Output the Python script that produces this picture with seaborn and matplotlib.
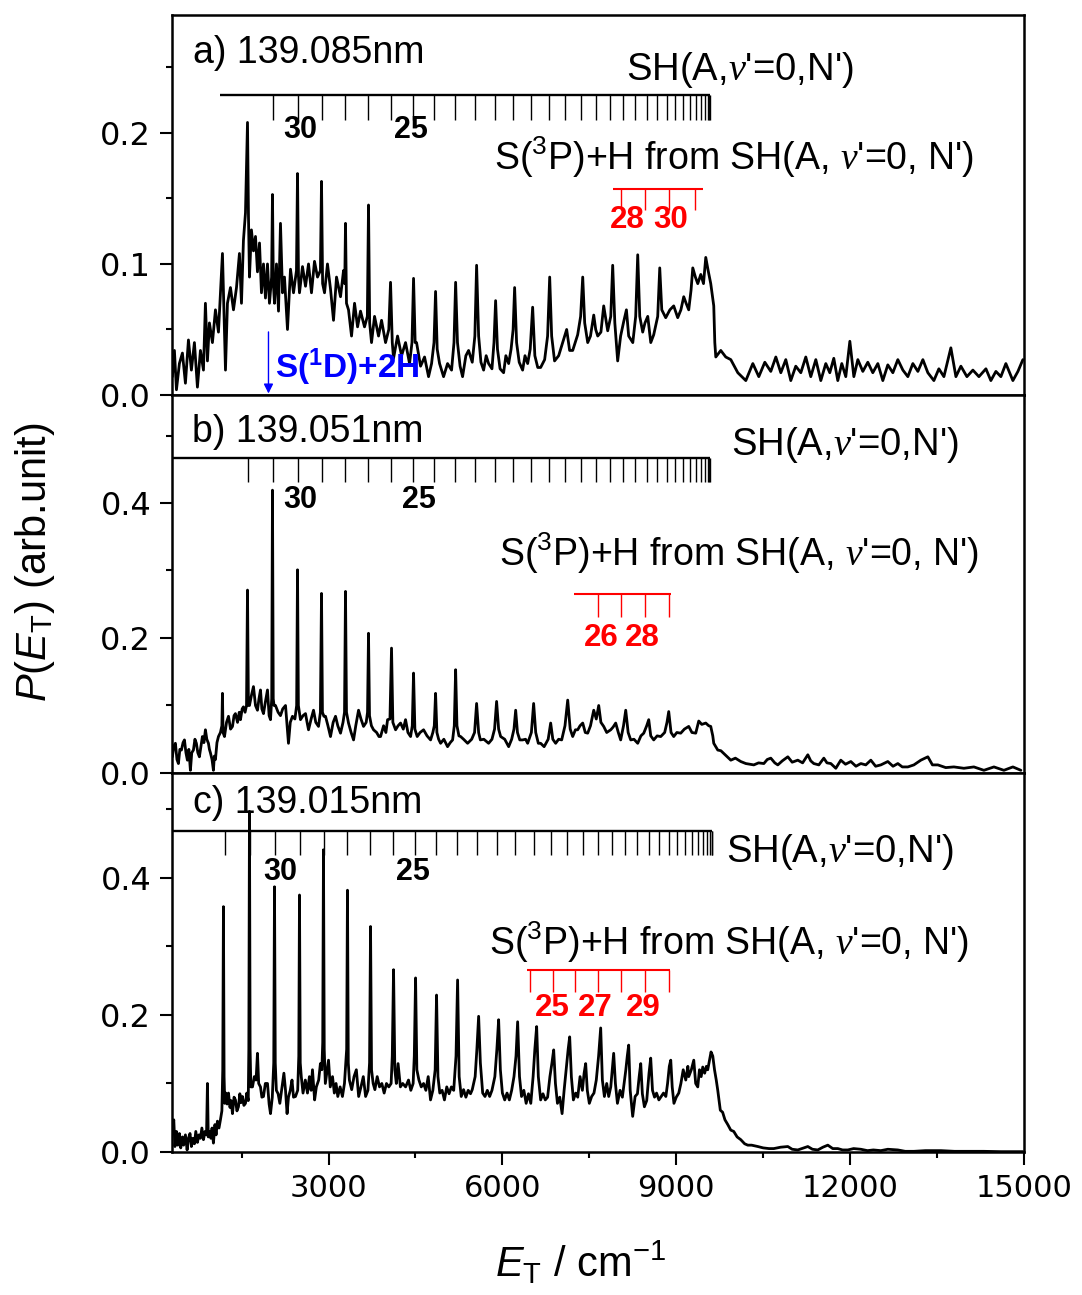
import numpy as np
import pandas as pd
import matplotlib
matplotlib.use("Agg")
import matplotlib.pyplot as plt
import matplotlib.transforms as mtransforms
from matplotlib.ticker import MultipleLocator, FormatStrFormatter
import seaborn as sns

# ---------------- data ----------------
energy_a = [306, 341, 376, 427, 479, 531, 583, 634, 686, 738, 790, 842, 876, 911, 945, 997, 1049, 1101,
            1170, 1222, 1256, 1308, 1360, 1412, 1463, 1498, 1532, 1567, 1602, 1619, 1636, 1670, 1705, 1740,
            1774, 1809, 1843, 1878, 1912, 1947, 1981, 2018, 2033, 2048, 2068, 2102, 2137, 2171, 2206, 2240,
            2292, 2344, 2396, 2447, 2465, 2482, 2499, 2551, 2603, 2655, 2706, 2758, 2810, 2860, 2879, 2898,
            2931, 2982, 3034, 3086, 3138, 3207, 3259, 3280, 3293, 3310, 3345, 3397, 3449, 3501, 3552, 3621,
            3670, 3690, 3710, 3742, 3794, 3863, 3915, 3984, 4040, 4070, 4100, 4122, 4191, 4260, 4329, 4398,
            4440, 4467, 4495, 4519, 4588, 4657, 4726, 4778, 4820, 4847, 4875, 4916, 4985, 5054, 5123, 5165,
            5193, 5225, 5270, 5313, 5370, 5417, 5480, 5525, 5555, 5590, 5630, 5676, 5720, 5762, 5820, 5855,
            5883, 5915, 5960, 6021, 6060, 6108, 6150, 6185, 6211, 6245, 6290, 6349, 6390, 6436, 6480, 6522,
            6560, 6610, 6660, 6729, 6780, 6816, 6850, 6900, 6971, 7040, 7109, 7160, 7213, 7299, 7350, 7386,
            7420, 7472, 7520, 7576, 7610, 7645, 7700, 7748, 7817, 7870, 7903, 7940, 7989, 8040, 8093, 8140,
            8179, 8250, 8300, 8335, 8370, 8421, 8460, 8508, 8560, 8611, 8680, 8715, 8750, 8818, 8890, 8956,
            9025, 9080, 9129, 9170, 9215, 9255, 9285, 9330, 9371, 9423, 9470, 9509, 9550, 9595, 9647, 9665,
            9682, 9768, 9854, 9941, 10062, 10200, 10321, 10424, 10528, 10631, 10718, 10804, 10890, 10976,
            11062, 11149, 11235, 11321, 11408, 11494, 11580, 11649, 11718, 11787, 11856, 11925, 11995, 12064,
            12133, 12219, 12305, 12391, 12478, 12564, 12650, 12737, 12823, 12910, 12996, 13082, 13169, 13255,
            13341, 13445, 13531, 13618, 13738, 13825, 13911, 14015, 14118, 14222, 14343, 14428, 14515, 14601,
            14687, 14808, 14895, 14981]
signal_a = [0.014, 0.034, 0.004, 0.024, 0.032, 0.009, 0.042, 0.019, 0.040, 0.006, 0.034, 0.019, 0.070, 0.026,
            0.055, 0.040, 0.065, 0.048, 0.108, 0.019, 0.070, 0.082, 0.065, 0.082, 0.108, 0.070, 0.118, 0.139,
            0.208, 0.136, 0.090, 0.126, 0.110, 0.121, 0.094, 0.116, 0.078, 0.100, 0.074, 0.100, 0.070, 0.090,
            0.153, 0.085, 0.070, 0.100, 0.064, 0.131, 0.078, 0.090, 0.050, 0.096, 0.078, 0.095, 0.169, 0.090,
            0.078, 0.098, 0.083, 0.100, 0.078, 0.102, 0.090, 0.095, 0.163, 0.085, 0.078, 0.100, 0.081, 0.057,
            0.090, 0.075, 0.095, 0.085, 0.131, 0.070, 0.065, 0.045, 0.070, 0.052, 0.064, 0.052, 0.060, 0.145,
            0.055, 0.040, 0.060, 0.045, 0.057, 0.040, 0.050, 0.086, 0.040, 0.028, 0.045, 0.030, 0.040, 0.024,
            0.040, 0.089, 0.040, 0.040, 0.022, 0.029, 0.014, 0.024, 0.040, 0.079, 0.035, 0.024, 0.014, 0.024,
            0.019, 0.040, 0.086, 0.040, 0.022, 0.014, 0.030, 0.034, 0.025, 0.045, 0.099, 0.045, 0.025, 0.019,
            0.030, 0.024, 0.020, 0.040, 0.072, 0.035, 0.020, 0.017, 0.030, 0.024, 0.035, 0.050, 0.082, 0.040,
            0.025, 0.019, 0.030, 0.024, 0.035, 0.067, 0.030, 0.021, 0.021, 0.027, 0.045, 0.090, 0.045, 0.026,
            0.030, 0.040, 0.050, 0.034, 0.034, 0.046, 0.060, 0.090, 0.055, 0.040, 0.045, 0.061, 0.050, 0.045,
            0.048, 0.068, 0.049, 0.060, 0.099, 0.055, 0.026, 0.045, 0.056, 0.065, 0.045, 0.040, 0.060, 0.107,
            0.060, 0.048, 0.055, 0.060, 0.040, 0.046, 0.060, 0.097, 0.065, 0.059, 0.065, 0.068, 0.059, 0.065,
            0.075, 0.070, 0.065, 0.080, 0.097, 0.090, 0.085, 0.092, 0.085, 0.105, 0.095, 0.085, 0.068, 0.040,
            0.029, 0.034, 0.029, 0.027, 0.017, 0.011, 0.024, 0.014, 0.025, 0.018, 0.029, 0.017, 0.027, 0.011,
            0.022, 0.017, 0.029, 0.014, 0.027, 0.011, 0.024, 0.017, 0.028, 0.011, 0.024, 0.014, 0.041, 0.014,
            0.027, 0.018, 0.025, 0.017, 0.024, 0.011, 0.023, 0.017, 0.027, 0.019, 0.014, 0.024, 0.018, 0.027,
            0.017, 0.011, 0.020, 0.014, 0.036, 0.014, 0.022, 0.014, 0.019, 0.014, 0.020, 0.011, 0.018, 0.014,
            0.024, 0.011, 0.018, 0.027]

energy_b = [306, 330, 358, 385, 410, 435, 462, 490, 514, 540, 565, 590, 617, 640, 669, 695, 720, 745, 772,
            800, 824, 850, 876, 900, 928, 945, 962, 990, 1014, 1030, 1049, 1075, 1101, 1135, 1160, 1170, 1180,
            1205, 1240, 1274, 1310, 1343, 1370, 1394, 1430, 1460, 1481, 1510, 1532, 1560, 1585, 1602, 1618,
            1636, 1670, 1705, 1740, 1774, 1800, 1826, 1850, 1878, 1910, 1947, 1975, 1999, 2020, 2033, 2046,
            2060, 2085, 2130, 2171, 2210, 2258, 2285, 2309, 2340, 2378, 2420, 2450, 2465, 2480, 2516, 2560,
            2603, 2630, 2655, 2700, 2741, 2780, 2827, 2860, 2879, 2895, 2920, 2948, 2990, 3034, 3080, 3121,
            3160, 3207, 3250, 3276, 3293, 3310, 3345, 3390, 3432, 3470, 3518, 3560, 3604, 3650, 3673, 3690,
            3707, 3740, 3777, 3830, 3870, 3898, 3950, 3990, 4019, 4060, 4087, 4110, 4157, 4200, 4243, 4290,
            4329, 4370, 4416, 4445, 4467, 4490, 4530, 4580, 4640, 4700, 4761, 4800, 4825, 4847, 4870, 4900,
            4934, 4990, 5054, 5100, 5141, 5170, 5193, 5216, 5250, 5279, 5330, 5400, 5470, 5520, 5555, 5590,
            5620, 5680, 5762, 5820, 5865, 5900, 5935, 5970, 6040, 6108, 6160, 6200, 6229, 6260, 6300, 6349,
            6400, 6436, 6500, 6539, 6575, 6620, 6660, 6720, 6790, 6833, 6870, 6919, 6970, 7023, 7080, 7127,
            7170, 7213, 7260, 7299, 7340, 7386, 7430, 7472, 7520, 7576, 7620, 7662, 7700, 7748, 7800, 7869,
            7910, 7955, 8000, 8041, 8090, 8128, 8170, 8214, 8270, 8335, 8390, 8439, 8490, 8525, 8560, 8611,
            8670, 8732, 8800, 8840, 8870, 8910, 8956, 9010, 9077, 9140, 9215, 9270, 9336, 9388, 9440, 9509,
            9560, 9595, 9630, 9647, 9716, 9770, 9820, 9880, 9941, 10020, 10113, 10200, 10338, 10420, 10511,
            10570, 10631, 10700, 10752, 10830, 10925, 11000, 11097, 11180, 11270, 11320, 11373, 11460, 11546,
            11600, 11667, 11753, 11839, 11920, 12012, 12100, 12185, 12270, 12357, 12440, 12530, 12650, 12740,
            12823, 12900, 12996, 13100, 13220, 13341, 13420, 13514, 13650, 13790, 13963, 14135, 14308, 14481,
            14653, 14808, 14946]
signal_b = [0.024, 0.040, 0.044, 0.020, 0.014, 0.035, 0.034, 0.045, 0.049, 0.030, 0.019, 0.035, 0.004, 0.030,
            0.034, 0.050, 0.044, 0.030, 0.024, 0.040, 0.054, 0.045, 0.064, 0.050, 0.044, 0.035, 0.030, 0.020,
            0.004, 0.025, 0.020, 0.045, 0.054, 0.060, 0.070, 0.118, 0.060, 0.054, 0.075, 0.084, 0.065, 0.069,
            0.085, 0.088, 0.075, 0.090, 0.079, 0.095, 0.098, 0.090, 0.100, 0.271, 0.100, 0.100, 0.115, 0.128,
            0.100, 0.093, 0.110, 0.123, 0.095, 0.088, 0.105, 0.123, 0.085, 0.079, 0.110, 0.419, 0.110, 0.100,
            0.100, 0.090, 0.085, 0.095, 0.100, 0.070, 0.044, 0.075, 0.084, 0.080, 0.100, 0.301, 0.100, 0.079,
            0.085, 0.088, 0.075, 0.064, 0.080, 0.093, 0.075, 0.069, 0.090, 0.266, 0.090, 0.084, 0.084, 0.070,
            0.054, 0.075, 0.084, 0.070, 0.059, 0.075, 0.090, 0.269, 0.090, 0.074, 0.060, 0.049, 0.070, 0.093,
            0.080, 0.069, 0.075, 0.090, 0.207, 0.085, 0.070, 0.064, 0.060, 0.054, 0.054, 0.070, 0.060, 0.079,
            0.080, 0.185, 0.075, 0.064, 0.070, 0.074, 0.065, 0.079, 0.060, 0.054, 0.070, 0.148, 0.065, 0.054,
            0.060, 0.064, 0.055, 0.049, 0.060, 0.070, 0.118, 0.060, 0.050, 0.044, 0.050, 0.039, 0.045, 0.049,
            0.070, 0.153, 0.070, 0.055, 0.054, 0.050, 0.044, 0.050, 0.060, 0.103, 0.060, 0.049, 0.050, 0.044,
            0.050, 0.065, 0.106, 0.065, 0.054, 0.050, 0.039, 0.050, 0.065, 0.093, 0.060, 0.049, 0.049, 0.050,
            0.044, 0.060, 0.103, 0.060, 0.044, 0.044, 0.039, 0.050, 0.074, 0.050, 0.044, 0.050, 0.049, 0.070,
            0.108, 0.065, 0.054, 0.064, 0.064, 0.070, 0.074, 0.060, 0.059, 0.070, 0.093, 0.080, 0.100, 0.075,
            0.069, 0.060, 0.064, 0.068, 0.074, 0.060, 0.049, 0.070, 0.093, 0.060, 0.049, 0.050, 0.044, 0.055,
            0.059, 0.070, 0.079, 0.055, 0.049, 0.055, 0.054, 0.060, 0.075, 0.091, 0.060, 0.054, 0.060, 0.059,
            0.065, 0.069, 0.060, 0.059, 0.077, 0.072, 0.074, 0.070, 0.069, 0.055, 0.044, 0.034, 0.033, 0.029,
            0.024, 0.019, 0.022, 0.017, 0.014, 0.012, 0.015, 0.014, 0.020, 0.022, 0.015, 0.012, 0.018, 0.024,
            0.016, 0.019, 0.015, 0.027, 0.018, 0.014, 0.012, 0.022, 0.015, 0.014, 0.007, 0.019, 0.013, 0.017,
            0.010, 0.014, 0.012, 0.019, 0.010, 0.012, 0.017, 0.010, 0.014, 0.009, 0.009, 0.012, 0.019, 0.024,
            0.012, 0.012, 0.008, 0.009, 0.007, 0.009, 0.004, 0.009, 0.004, 0.009, 0.004]

energy_c = [306, 330, 350, 376, 400, 427, 450, 479, 500, 531, 560, 583, 610, 634, 660, 686, 710, 738, 765,
            790, 815, 842, 870, 895, 911, 925, 945, 970, 990, 1014, 1040, 1060, 1083, 1110, 1135, 1160, 1175,
            1187, 1198, 1210, 1230, 1250, 1274, 1300, 1320, 1343, 1370, 1394, 1420, 1446, 1470, 1490, 1515,
            1540, 1567, 1590, 1615, 1625, 1636, 1647, 1660, 1688, 1720, 1750, 1774, 1795, 1826, 1850, 1878,
            1910, 1947, 1975, 1999, 2030, 2055, 2068, 2081, 2100, 2130, 2160, 2190, 2230, 2258, 2285, 2309,
            2340, 2370, 2396, 2430, 2468, 2487, 2499, 2512, 2530, 2560, 2600, 2637, 2670, 2700, 2723, 2760,
            2790, 2830, 2860, 2885, 2900, 2913, 2926, 2945, 2970, 3000, 3030, 3069, 3100, 3130, 3160, 3200,
            3240, 3275, 3313, 3327, 3341, 3360, 3400, 3440, 3480, 3520, 3560, 3600, 3640, 3680, 3708, 3725,
            3742, 3770, 3800, 3840, 3880, 3920, 3960, 4000, 4040, 4080, 4100, 4122, 4144, 4170, 4200, 4240,
            4280, 4330, 4380, 4420, 4460, 4480, 4502, 4524, 4560, 4600, 4640, 4680, 4720, 4760, 4800, 4840,
            4864, 4888, 4920, 4960, 5000, 5040, 5080, 5120, 5160, 5200, 5227, 5254, 5290, 5330, 5370, 5410,
            5450, 5480, 5530, 5560, 5590, 5620, 5660, 5700, 5740, 5780, 5820, 5870, 5905, 5935, 5965, 6000,
            6040, 6080, 6120, 6160, 6200, 6235, 6263, 6295, 6330, 6370, 6410, 6450, 6490, 6530, 6560, 6591,
            6620, 6660, 6700, 6740, 6780, 6820, 6855, 6885, 6915, 6950, 6990, 7030, 7065, 7100, 7135, 7161,
            7190, 7225, 7265, 7300, 7340, 7380, 7410, 7437, 7465, 7500, 7540, 7580, 7620, 7660, 7696, 7725,
            7760, 7800, 7834, 7870, 7895, 7920, 7950, 7985, 8030, 8070, 8100, 8130, 8155, 8179, 8205, 8248,
            8290, 8330, 8360, 8387, 8415, 8450, 8490, 8530, 8559, 8590, 8625, 8660, 8700, 8740, 8780, 8820,
            8850, 8880, 8905, 8930, 8960, 9000, 9043, 9080, 9120, 9164, 9200, 9215, 9260, 9302, 9335, 9371,
            9400, 9430, 9457, 9490, 9520, 9543, 9575, 9600, 9630, 9660, 9690, 9716, 9760, 9800, 9840, 9889,
            9940, 9992, 10050, 10113, 10180, 10234, 10300, 10407, 10500, 10600, 10683, 10800, 10925, 11000,
            11097, 11200, 11270, 11350, 11442, 11530, 11615, 11700, 11787, 11870, 11960, 12060, 12185, 12300,
            12400, 12530, 12650, 12823, 12950, 13100, 13300, 13566, 13800, 14032, 14300, 14601, 14981]
signal_c = [0.032, 0.047, 0.008, 0.030, 0.010, 0.027, 0.006, 0.022, 0.010, 0.025, 0.003, 0.020, 0.027, 0.008,
            0.020, 0.012, 0.030, 0.014, 0.025, 0.020, 0.035, 0.018, 0.030, 0.025, 0.100, 0.022, 0.030, 0.020,
            0.035, 0.013, 0.040, 0.025, 0.045, 0.035, 0.047, 0.060, 0.120, 0.358, 0.110, 0.071, 0.086, 0.070,
            0.086, 0.065, 0.075, 0.056, 0.080, 0.076, 0.060, 0.066, 0.085, 0.072, 0.081, 0.068, 0.071, 0.086,
            0.075, 0.150, 0.497, 0.150, 0.095, 0.095, 0.110, 0.105, 0.144, 0.100, 0.095, 0.080, 0.081, 0.100,
            0.100, 0.070, 0.056, 0.080, 0.130, 0.387, 0.130, 0.090, 0.085, 0.071, 0.090, 0.115, 0.090, 0.056,
            0.080, 0.090, 0.105, 0.080, 0.081, 0.090, 0.140, 0.375, 0.130, 0.110, 0.086, 0.105, 0.086, 0.110,
            0.090, 0.120, 0.076, 0.095, 0.105, 0.129, 0.120, 0.160, 0.441, 0.150, 0.100, 0.115, 0.134, 0.095,
            0.110, 0.086, 0.100, 0.081, 0.095, 0.081, 0.100, 0.150, 0.382, 0.130, 0.105, 0.091, 0.110, 0.120,
            0.081, 0.095, 0.110, 0.081, 0.090, 0.130, 0.329, 0.120, 0.100, 0.091, 0.110, 0.095, 0.100, 0.086,
            0.100, 0.095, 0.100, 0.140, 0.266, 0.120, 0.100, 0.129, 0.095, 0.100, 0.095, 0.105, 0.090, 0.100,
            0.140, 0.254, 0.120, 0.105, 0.095, 0.100, 0.090, 0.110, 0.076, 0.090, 0.120, 0.229, 0.110, 0.086,
            0.090, 0.076, 0.095, 0.085, 0.095, 0.090, 0.140, 0.251, 0.110, 0.081, 0.091, 0.080, 0.090, 0.085,
            0.091, 0.110, 0.150, 0.198, 0.130, 0.086, 0.081, 0.090, 0.081, 0.090, 0.110, 0.150, 0.193, 0.120,
            0.086, 0.076, 0.086, 0.076, 0.090, 0.110, 0.140, 0.190, 0.110, 0.081, 0.090, 0.071, 0.085, 0.071,
            0.110, 0.150, 0.183, 0.110, 0.076, 0.085, 0.076, 0.080, 0.110, 0.130, 0.149, 0.100, 0.071, 0.080,
            0.056, 0.090, 0.120, 0.150, 0.168, 0.110, 0.076, 0.086, 0.080, 0.110, 0.090, 0.115, 0.129, 0.090,
            0.071, 0.081, 0.086, 0.105, 0.140, 0.181, 0.105, 0.081, 0.100, 0.081, 0.095, 0.120, 0.144, 0.100,
            0.071, 0.090, 0.080, 0.100, 0.120, 0.140, 0.156, 0.090, 0.052, 0.081, 0.085, 0.110, 0.129, 0.085,
            0.066, 0.075, 0.115, 0.137, 0.090, 0.080, 0.086, 0.076, 0.081, 0.086, 0.081, 0.100, 0.125, 0.134,
            0.095, 0.071, 0.080, 0.086, 0.100, 0.120, 0.105, 0.125, 0.110, 0.120, 0.134, 0.100, 0.095, 0.120,
            0.110, 0.124, 0.115, 0.125, 0.120, 0.135, 0.146, 0.140, 0.120, 0.105, 0.090, 0.061, 0.058, 0.047,
            0.040, 0.032, 0.030, 0.022, 0.018, 0.012, 0.010, 0.010, 0.008, 0.006, 0.005, 0.005, 0.007, 0.008,
            0.004, 0.003, 0.006, 0.008, 0.004, 0.003, 0.007, 0.010, 0.005, 0.005, 0.003, 0.003, 0.005, 0.004,
            0.002, 0.003, 0.002, 0.004, 0.003, 0.001, 0.001, 0.002, 0.002, 0.001, 0.001, 0.001, 0.0005, 0.0005]

panel_titles = ["a) 139.085nm", "b) 139.051nm", "c) 139.015nm"]

# SH(A, v'=0, N') rotational comb: N' = 33 ... 0
comb_N = list(range(33, -1, -1))
comb_energy = [1179, 1615, 2044, 2467, 2882, 3289, 3688, 4077, 4456, 4826, 5185, 5532, 5868, 6191, 6502,
               6800, 7084, 7354, 7611, 7853, 8080, 8292, 8489, 8671, 8836, 8986, 9120, 9237, 9337, 9421,
               9489, 9539, 9573, 9590]
# S(3P)+H comb: N' = 24 ... 31
red_N = [24, 25, 26, 27, 28, 29, 30, 31]
red_energy = [6470, 6867, 7247, 7645, 8041, 8456, 8880, 9319]

# ---------------- style ----------------
sns.set_style("ticks")
plt.rcParams['font.family'] = ['Liberation Sans', 'DejaVu Sans']
plt.rcParams['text.color'] = 'black'
plt.rcParams['axes.labelcolor'] = 'black'
plt.rcParams['xtick.color'] = 'black'
plt.rcParams['ytick.color'] = 'black'
plt.rcParams['mathtext.fontset'] = 'custom'
plt.rcParams['mathtext.rm'] = 'Liberation Sans'
plt.rcParams['mathtext.it'] = 'Liberation Sans:italic'
plt.rcParams['mathtext.bf'] = 'Liberation Sans:bold'
plt.rcParams['mathtext.sf'] = 'Liberation Serif:italic'

fig = plt.figure(figsize=(10.82, 12.95), dpi=100)
left, width = 0.1590, 0.7874
bottoms = [0.69498, 0.40309, 0.11042]
heights = [0.29344, 0.29189, 0.29266]
ylims = [0.29, 0.56, 0.553]
ymaj = [0.1, 0.2, 0.2]

energies = [energy_a, energy_b, energy_c]
signals = [signal_a, signal_b, signal_c]

# layout constants per panel
comb_maxN = [31, 32, 33]
comb_shift = [0, 0, 35]
comb_start = [1135, 300, 300]
comb_y = [(0.789, 0.724), (0.833, 0.770), (0.847, 0.784)]
title_pos = [(665, 0.900), (650, 0.902), (665, 0.921)]
sh_pos = [(8127, 0.855), (9940, 0.868), (9854, 0.792)]
sp_pos = [(5849, 0.626), (5935, 0.582), (5762, 0.554)]
num_pos = [((2516, 0.697), (4416, 0.697)), ((2516, 0.722), (4554, 0.722)), ((2171, 0.739), (4450, 0.739))]
red_ticksN = [[28, 29, 30, 31], [27, 28, 29, 30], [24, 25, 26, 27, 28, 29, 30]]
red_line = [(7907, 9457), (7230, 8905), (6418, 8887)]
red_y = [(0.542, 0.487, 0.46), (0.474, 0.413, 0.357), (0.480, 0.422, 0.380)]
red_labels = [[("28", 8162), ("30", 8905)], [("26", 7713), ("28", 8422)],
              [("25", 6867), ("27", 7610), ("29", 8422)]]

axes = []
for i in range(3):
    ax = fig.add_axes([left, bottoms[i], width, heights[i]])
    axes.append(ax)
    df = pd.DataFrame({"energy": energies[i], "signal": signals[i]})
    sns.lineplot(data=df, x="energy", y="signal", ax=ax, color="black", lw=2.0,
                 estimator=None, sort=False, legend=False)
    ax.set_xlim(300, 15000)
    ax.set_ylim(0, ylims[i])
    ax.set_xlabel("")
    ax.set_ylabel("")
    ax.xaxis.set_major_locator(MultipleLocator(3000))
    ax.xaxis.set_minor_locator(MultipleLocator(1500))
    ax.yaxis.set_major_locator(MultipleLocator(ymaj[i]))
    ax.yaxis.set_minor_locator(MultipleLocator(ymaj[i] / 2))
    ax.yaxis.set_major_formatter(FormatStrFormatter('%.1f'))
    for sp in ax.spines.values():
        sp.set_linewidth(1.8)
        sp.set_color('black')
    ax.tick_params(axis='y', which='major', direction='out', length=9, width=1.5,
                   labelsize=23, pad=6, labelfontfamily='DejaVu Sans', colors='black')
    ax.tick_params(axis='y', which='minor', direction='out', length=4.5, width=1.5, colors='black')
    if i < 2:
        ax.tick_params(axis='x', which='both', direction='out', length=7, width=1.5,
                       labelbottom=False, colors='black')
    else:
        ax.tick_params(axis='x', which='major', direction='out', length=9, width=1.5,
                       labelsize=22, pad=7, labelfontfamily='DejaVu Sans', colors='black')
        ax.tick_params(axis='x', which='minor', direction='out', length=4.5, width=1.5, colors='black')

    trans = mtransforms.blended_transform_factory(ax.transData, ax.transAxes)

    # black comb
    ytop, ybot = comb_y[i]
    xs = [e + comb_shift[i] for n, e in zip(comb_N, comb_energy) if n <= comb_maxN[i]]
    ax.plot([comb_start[i], max(xs)], [ytop, ytop], transform=trans, color='black', lw=1.7,
            solid_capstyle='butt')
    ax.vlines(xs, ybot, ytop, transform=trans, colors='black', lw=1.0)

    # texts
    ax.text(title_pos[i][0], title_pos[i][1], panel_titles[i], transform=trans,
            ha='left', va='center', fontsize=27)
    ax.text(sh_pos[i][0], sh_pos[i][1], r"SH(A,$\mathsf{\nu}$'=0,N')", transform=trans,
            ha='left', va='center', fontsize=27.5)
    ax.text(sp_pos[i][0], sp_pos[i][1], r"S($^{3}$P)+H from SH(A, $\mathsf{\nu}$'=0, N')",
            transform=trans, ha='left', va='center', fontsize=27)
    (x30, y30), (x25, y25) = num_pos[i]
    ax.text(x30, y30, "30", transform=trans, ha='center', va='center', fontsize=22, fontweight='bold')
    ax.text(x25, y25, "25", transform=trans, ha='center', va='center', fontsize=22, fontweight='bold')

    # red comb
    rtop, rbot, rlab = red_y[i]
    rx = [e for n, e in zip(red_N, red_energy) if n in red_ticksN[i]]
    ax.plot(list(red_line[i]), [rtop, rtop], transform=trans, color='red', lw=1.5,
            solid_capstyle='butt')
    ax.vlines(rx, rbot, rtop, transform=trans, colors='red', lw=1.0)
    for lab, xe in red_labels[i]:
        ax.text(xe, rlab, lab, transform=trans, ha='center', va='center', fontsize=22.5,
                fontweight='bold', color='red')

    if i == 0:
        ax.annotate("", xy=(1964, 0.004), xytext=(1964, 0.166), xycoords=trans, textcoords=trans,
                    arrowprops=dict(arrowstyle='-|>', color='blue', lw=1.0, mutation_scale=14,
                                    shrinkA=0, shrinkB=0))
        ax.text(2070, 0.074, r"S($^{\mathbf{1}}$D)+2H", transform=trans, ha='left', va='center',
                fontsize=24, fontweight='bold', color='blue')

fig.text(35 / 1082, 1 - 562 / 1295, r"$P$($E_{\mathrm{T}}$) (arb.unit)", rotation=90,
         ha='center', va='center', fontsize=30)
fig.text(581 / 1082, 1 - 1262 / 1295, r"$E_{\mathrm{T}}$ / cm$^{-1}$", ha='center', va='center',
         fontsize=30)

fig.savefig("out.png", dpi=100)
